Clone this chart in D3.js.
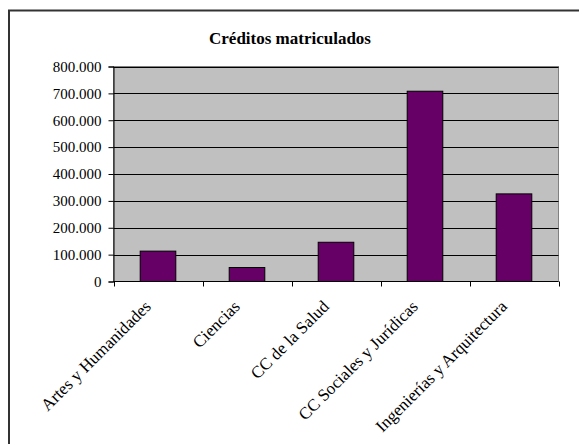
<!DOCTYPE html>
<html>
<head>
<meta charset="utf-8">
<script src="https://cdn.jsdelivr.net/npm/d3@7"></script>
<style>
  html, body { margin: 0; padding: 0; background: #fff; }
  svg { display: block; }
</style>
</head>
<body>
<svg id="chart" width="579" height="444"></svg>
<script>
const title = "Créditos matriculados";
const categories = ["Artes y Humanidades", "Ciencias", "CC de la Salud", "CC Sociales y Jurídicas", "Ingenierías y Arquitectura"];
const values = [113000, 52000, 146000, 708000, 326000];
const yTicks = [0, 100000, 200000, 300000, 400000, 500000, 600000, 700000, 800000];

const svg = d3.select("#chart");
const plot = { left: 113.5, right: 558.5, top: 66.5, bottom: 281.5 };
const font = "'Liberation Serif', 'Times New Roman', serif";

// outer chart border (extends past right/bottom edges)
svg.append("rect")
  .attr("x", 9).attr("y", 10.5)
  .attr("width", 580).attr("height", 450)
  .attr("fill", "#fff").attr("stroke", "#333").attr("stroke-width", 2);

svg.append("text")
  .attr("x", 290).attr("y", 44)
  .attr("text-anchor", "middle")
  .attr("font-family", font).attr("font-weight", "bold").attr("font-size", 17)
  .text(title);

const xBand = d3.scaleBand().domain(categories).range([plot.left, plot.right]);
const y = d3.scaleLinear().domain([0, 800000]).range([plot.bottom, plot.top]);

// plot area
svg.append("rect")
  .attr("x", plot.left).attr("y", plot.top)
  .attr("width", plot.right - plot.left).attr("height", plot.bottom - plot.top)
  .attr("fill", "#c0c0c0").attr("stroke", "#808080").attr("stroke-width", 1);

// gridlines
svg.append("g").selectAll("line").data(yTicks.filter(d => d > 0)).join("line")
  .attr("x1", plot.left).attr("x2", plot.right)
  .attr("y1", d => Math.round(y(d)) + 0.5).attr("y2", d => Math.round(y(d)) + 0.5)
  .attr("stroke", "#000").attr("stroke-width", 1);

// bars
svg.append("g").selectAll("rect").data(values).join("rect")
  .attr("x", (d, i) => xBand(categories[i]) + xBand.bandwidth() * 0.3)
  .attr("width", xBand.bandwidth() * 0.4)
  .attr("y", d => y(d))
  .attr("height", d => plot.bottom - y(d))
  .attr("fill", "#660066").attr("stroke", "#000").attr("stroke-width", 1);

// y axis
const yAxis = d3.axisLeft(y).tickValues(yTicks).tickSize(5).tickPadding(7)
  .tickFormat(d => d === 0 ? "0" : d3.format(",")(d).replace(/,/g, "."));
const gy = svg.append("g").attr("transform", `translate(${plot.left},0)`).call(yAxis);
gy.select(".domain").attr("stroke", "#000");
gy.selectAll(".tick line").attr("stroke", "#000");
gy.selectAll(".tick text").attr("font-family", font).attr("font-size", 15).attr("fill", "#000");

// x axis
const boundaries = categories.map(c => xBand(c)).concat([plot.right]);
const gx = svg.append("g");
gx.append("line").attr("x1", plot.left).attr("x2", plot.right)
  .attr("y1", plot.bottom).attr("y2", plot.bottom).attr("stroke", "#000");
gx.selectAll("line.tk").data(boundaries).join("line").attr("class", "tk")
  .attr("x1", d => Math.round(d) + 0.5).attr("x2", d => Math.round(d) + 0.5)
  .attr("y1", plot.bottom).attr("y2", plot.bottom + 5).attr("stroke", "#000");

gx.selectAll("text").data(categories).join("text")
  .attr("transform", d => `translate(${xBand(d) + xBand.bandwidth() / 2 - 6},${plot.bottom + 26}) rotate(-45)`)
  .attr("text-anchor", "end")
  .attr("font-family", font).attr("font-size", 17).attr("fill", "#000")
  .text(d => d);
</script>
</body>
</html>
